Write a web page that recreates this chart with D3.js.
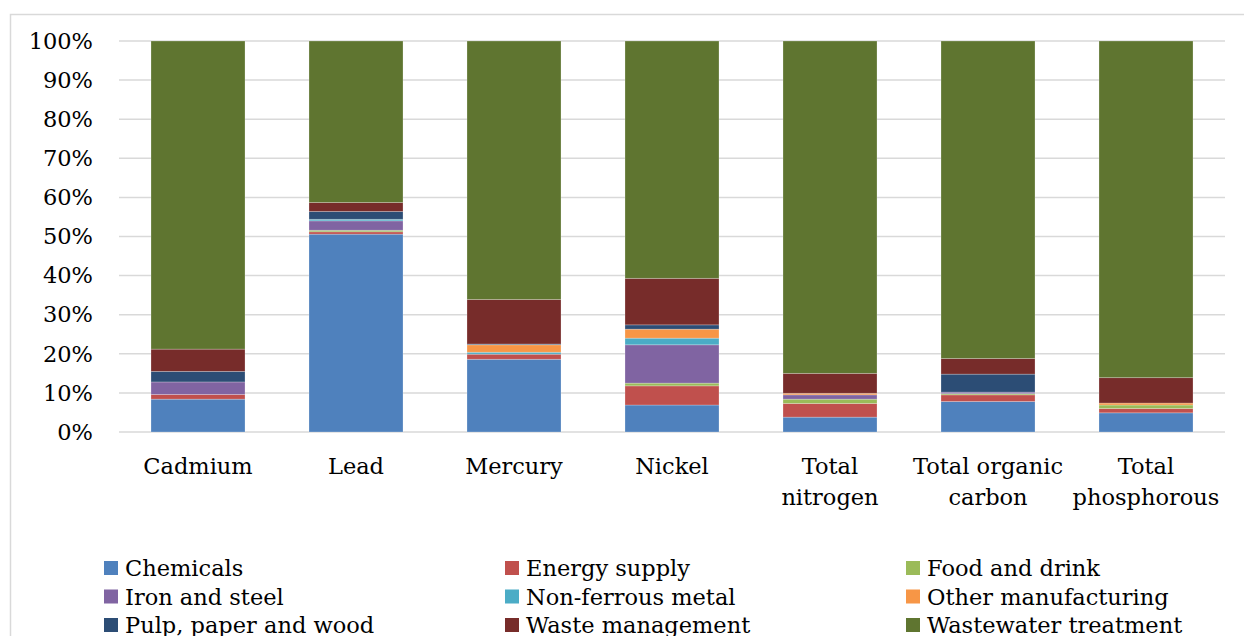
<!DOCTYPE html>
<html>
<head>
<meta charset="utf-8">
<script src="https://cdn.jsdelivr.net/npm/d3@7"></script>
<style>
    body { margin: 0; background: #fff; }
    svg text { font-family: 'DejaVu Serif', serif; fill: #000; }
</style>
</head>
<body>
<svg id="chart" width="1244" height="636"></svg>
<script>
// categories (pollutants), each label may span two lines
const categories = ['Cadmium', 'Lead', 'Mercury', 'Nickel', 'Total nitrogen', 'Total organic carbon', 'Total phosphorous']
const categoryLines = [['Cadmium'], ['Lead'], ['Mercury'], ['Nickel'], ['Total', 'nitrogen'], ['Total organic', 'carbon'], ['Total', 'phosphorous']]

const sectors = ['Chemicals', 'Energy supply', 'Food and drink', 'Iron and steel', 'Non-ferrous metal',
    'Other manufacturing', 'Pulp, paper and wood', 'Waste management', 'Wastewater treatment']
const colors = ['#4F81BD', '#C0504D', '#9BBB59', '#8064A2', '#4BACC6', '#F79646', '#2C4D75', '#772C2A', '#5F7530']

// share (%) per sector, one value per category
const chemicals = [8.4, 50.6, 18.6, 6.9, 3.8, 7.8, 4.9]
const energySupply = [1.2, 0.6, 1.3, 4.9, 3.5, 1.7, 1.1]
const foodDrink = [0, 0.4, 0, 0.7, 1.1, 0.3, 0.9]
const ironSteel = [3.2, 2.4, 0, 9.8, 1.1, 0.4, 0]
const nonFerrous = [0, 0.4, 0.5, 1.7, 0, 0, 0]
const otherManufacturing = [0, 0, 1.9, 2.3, 0.4, 0, 0.5]
const pulpPaper = [2.7, 2.0, 0.2, 1.1, 0, 4.6, 0]
const wasteManagement = [5.7, 2.3, 11.4, 11.9, 5.1, 4.0, 6.5]
const wastewater = [78.8, 41.3, 66.1, 60.7, 85.0, 81.2, 86.1]

const series = [chemicals, energySupply, foodDrink, ironSteel, nonFerrous, otherManufacturing, pulpPaper, wasteManagement, wastewater]
const yTicks = [0, 10, 20, 30, 40, 50, 60, 70, 80, 90, 100]

const FONT = "'DejaVu Serif', serif"
const FS = '22.5px'

const svg = d3.select('#chart')
const W = 1244, H = 636
const margin = { top: 41, left: 119, right: 19, plotBottom: 432 }

// outer chart border
svg.append('rect')
    .attr('x', 10.5).attr('y', 14.5)
    .attr('width', W + 10).attr('height', H + 10)
    .style('fill', 'none').style('stroke', '#d9d9d9').style('stroke-width', 1.5)

const table = categories.map((c, i) => {
    let row = { category: c }
    sectors.forEach((s, j) => row[s] = series[j][i])
    return row
})
const stacked = d3.stack().keys(sectors)(table)

const x = d3.scaleBand()
    .domain(categories)
    .range([margin.left, W - margin.right])
    .paddingInner(0.405)
    .paddingOuter(0.2025)

const y = d3.scaleLinear()
    .domain([0, 100])
    .range([margin.plotBottom, margin.top])

// gridlines
svg.append('g')
    .selectAll('line')
    .data(yTicks)
    .enter().append('line')
    .attr('x1', margin.left).attr('x2', W - margin.right)
    .attr('y1', d => y(d)).attr('y2', d => y(d))
    .style('stroke', '#d9d9d9').style('stroke-width', 1.5)

// y axis labels
const yAxis = d3.axisLeft(y).tickValues(yTicks).tickFormat(d => d + '%').tickSize(0).tickPadding(26)
const yG = svg.append('g')
    .attr('transform', `translate(${margin.left},0)`)
    .call(yAxis)
    .attr('font-family', FONT)
yG.select('.domain').remove()
yG.selectAll('text')
    .style('font-family', FONT)
    .style('font-size', FS)

// bars
svg.append('g')
    .selectAll('g')
    .data(stacked)
    .enter().append('g')
    .style('fill', (d, i) => colors[i])
    .selectAll('rect')
    .data(d => d.filter(p => p[1] - p[0] > 0))
    .enter().append('rect')
    .attr('x', d => x(d.data.category))
    .attr('y', d => y(d[1]))
    .attr('width', x.bandwidth())
    .attr('height', d => y(d[0]) - y(d[1]))
    .style('stroke', 'rgba(255,255,255,0.3)')
    .style('stroke-width', 0.8)

// category labels
const xG = svg.append('g')
categories.forEach((c, i) => {
    const t = xG.append('text')
        .attr('x', x(c) + x.bandwidth() / 2)
        .attr('y', 474)
        .attr('text-anchor', 'middle')
        .style('font-family', FONT)
        .style('font-size', FS)
    categoryLines[i].forEach((line, k) => {
        t.append('tspan')
            .attr('x', x(c) + x.bandwidth() / 2)
            .attr('dy', k === 0 ? 0 : 31)
            .text(line)
    })
})

// legend
const legend = svg.append('g')
sectors.forEach((s, i) => {
    const col = i % 3, row = Math.floor(i / 3)
    const lx = 104 + col * 401, ly = 568 + row * 28.5
    legend.append('rect')
        .attr('x', lx).attr('y', ly - 7)
        .attr('width', 14).attr('height', 14)
        .style('fill', colors[i])
    legend.append('text')
        .attr('x', lx + 21).attr('y', ly + 8)
        .style('font-family', FONT)
        .style('font-size', FS)
        .text(s)
})
</script>
</body>
</html>
